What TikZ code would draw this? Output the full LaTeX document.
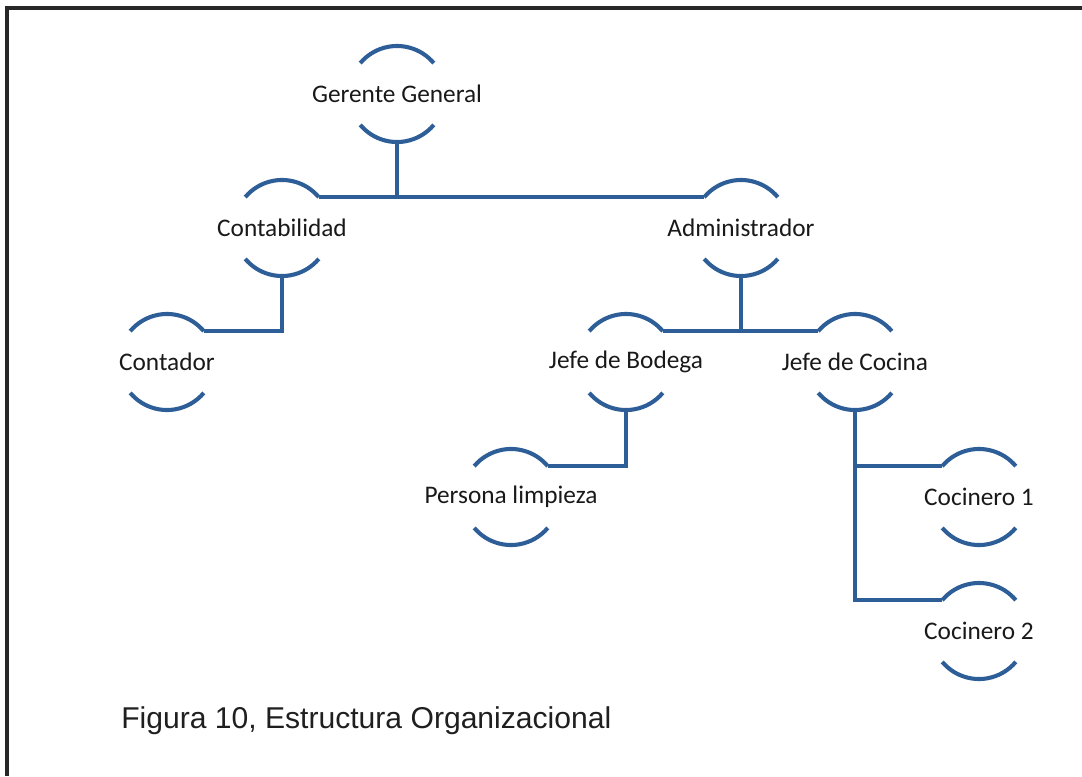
\documentclass[tikz,border=0pt]{standalone}
\usepackage{fontspec}
\setmainfont{Carlito}
\newfontfamily\arialfont{Liberation Sans}
\definecolor{azul}{RGB}{46,94,152}
\definecolor{marco}{RGB}{40,40,40}
\tikzset{
  etiqueta/.style={font=\fontsize{18}{20}\selectfont,text=black!90},
  puesto/.style={circle,minimum size=2.4cm,inner sep=0pt,outer sep=0pt,label={[etiqueta]center:#1}},
  linea/.style={azul,line width=2.9pt},
}
\begin{document}
\begin{tikzpicture}[x=0.025cm,y=-0.025cm]
\useasboundingbox (0,0) rectangle (1082,776);
\draw[marco,line width=2.2pt] (1082,8) -| (7,776);
\begin{scope}
\node[puesto={Gerente General}] (gg) at (397,94) {};
\node[puesto=Contabilidad] (cont) at (282,228) {};
\node[puesto=Administrador] (adm) at (741,228) {};
\node[puesto=Contador] (ctd) at (167,362) {};
\node[puesto={Jefe de Bodega}] (bod) at (626,362) {};
\node[puesto={Jefe de Cocina}] (coc) at (855,362) {};
\node[puesto={Persona limpieza}] (pl) at (511,497) {};
\node[puesto={Cocinero 1}] (c1) at (979,497) {};
\node[puesto={Cocinero 2}] (c2) at (979,631) {};
\end{scope}
% arcos de cada puesto
\foreach \n in {gg,cont,adm,ctd,bod,coc,pl,c1,c2}{
  \draw[linea] (\n.40) arc(40:140:1.2cm);
  \draw[linea] (\n.220) arc(220:320:1.2cm);
}
% conectores
\draw[linea] (cont.40) -- (adm.140);
\draw[linea] (gg.south) -- (gg.south |- cont.40);
\draw[linea] (cont.south) |- (ctd.40);
\draw[linea] (bod.40) -- (coc.140);
\draw[linea] (adm.south) -- (adm.south |- bod.40);
\draw[linea] (bod.south) |- (pl.40);
\draw[linea] (coc.south) |- (c2.140);
\draw[linea] (coc.south |- c1.140) -- (c1.140);
\node[anchor=base west,font=\arialfont\fontsize{21.4}{24}\selectfont,text=black!88,inner sep=0pt] (fig) at (121,728) {Figura 10, Estructura Organizacional};
\end{tikzpicture}
\end{document}
